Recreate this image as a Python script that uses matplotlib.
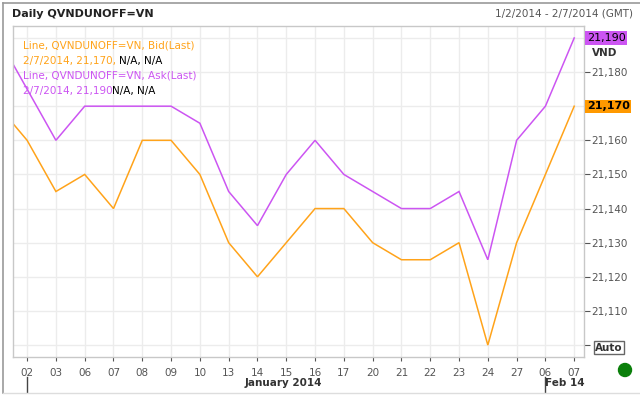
import numpy as np
import matplotlib
matplotlib.use('Agg')
import matplotlib.pyplot as plt
from matplotlib.lines import Line2D
from matplotlib.patches import Ellipse

# 数据: 2014-01-02 至 2014-02-07 每日 Bid / Ask (Last)
tick_labels = ['02', '03', '06', '07', '08', '09', '10', '13', '14', '15',
               '16', '17', '20', '21', '22', '23', '24', '27', '06', '07']
bid = [21160, 21145, 21150, 21140, 21160, 21160, 21150, 21130, 21120, 21130,
       21140, 21140, 21130, 21125, 21125, 21130, 21100, 21130, 21150, 21170]
ask = [21175, 21160, 21170, 21170, 21170, 21170, 21165, 21145, 21135, 21150,
       21160, 21150, 21145, 21140, 21140, 21145, 21125, 21160, 21170, 21190]
# 前一交易日 (图左侧被截断的部分)
prev_bid = 21170
prev_ask = 21190
y_ticks = [21110, 21120, 21130, 21140, 21150, 21160, 21180]

ORANGE = '#ffa31a'
PURPLE = '#cc55f2'
GRID = '#ececec'
GRAY = '#555555'

W, H = 640, 398


def fx(x):
    return x / W


def fy(y):
    return 1 - y / H


fig = plt.figure(figsize=(6.4, 3.98), dpi=100)
ax = fig.add_axes([fx(13), fy(357), fx(584) - fx(13), fy(26) - fy(357)])

x = np.arange(len(tick_labels))
xb = np.concatenate([[-1], x])
ax.plot(xb, [prev_bid] + bid, color=ORANGE, lw=1.1, solid_joinstyle='miter')
ax.plot(xb, [prev_ask] + ask, color=PURPLE, lw=1.1, solid_joinstyle='miter')

ax.set_xlim(-0.49, 19.34)
ax.set_ylim(21096.5, 21193.5)

ax.set_xticks(x)
ax.set_xticklabels(tick_labels, fontsize=7.5, color=GRAY)
ax.set_yticks(y_ticks + [21100, 21170, 21190])
ax.set_yticklabels([f'{v:,}' for v in y_ticks] + ['', '', ''], fontsize=7.5, color=GRAY)
ax.yaxis.tick_right()
ax.tick_params(axis='y', length=4, width=0.8, color=GRAY, pad=1)
ax.tick_params(axis='x', length=3, width=0.8, color=GRAY, pad=5)
ax.grid(True, color=GRID, lw=1.0)
ax.set_axisbelow(True)
for s in ax.spines.values():
    s.set_color('#c8c8c8')
    s.set_linewidth(1.0)

# 图例文字
fs = 7.5
t1 = ax.text(0.017, 0.955, 'Line, QVNDUNOFF=VN, Bid(Last)', transform=ax.transAxes,
             color=ORANGE, fontsize=fs, va='top')
t2 = ax.text(0.017, 0.91, '2/7/2014, 21,170, ', transform=ax.transAxes,
             color=ORANGE, fontsize=fs, va='top')
ax.annotate('N/A, N/A', xy=(1, 0), xycoords=t2, va='bottom', fontsize=fs, color='black')
t3 = ax.text(0.017, 0.865, 'Line, QVNDUNOFF=VN, Ask(Last)', transform=ax.transAxes,
             color=PURPLE, fontsize=fs, va='top')
t4 = ax.text(0.017, 0.82, '2/7/2014, 21,190', transform=ax.transAxes,
             color=PURPLE, fontsize=fs, va='top')
ax.annotate('N/A, N/A', xy=(1, 0), xycoords=t4, va='bottom', fontsize=fs, color='black')

# 右侧最新值标签
ax.annotate(f'{ask[-1]:,}', xy=(1, ask[-1]), xycoords=('axes fraction', 'data'),
            xytext=(2, 0), textcoords='offset points', va='center', ha='left',
            fontsize=8, color='black',
            bbox=dict(boxstyle='square,pad=0.15', fc=PURPLE, ec='none'))
ax.annotate('VND', xy=(1, ask[-1]), xycoords=('axes fraction', 'data'),
            xytext=(6, -10.5), textcoords='offset points', va='center', ha='left',
            fontsize=7.5, color='#333333', fontweight='bold')
ax.annotate(f'{bid[-1]:,}', xy=(1, bid[-1]), xycoords=('axes fraction', 'data'),
            xytext=(2, 0), textcoords='offset points', va='center', ha='left',
            fontsize=8, color='black', fontweight='bold',
            bbox=dict(boxstyle='square,pad=0.15', fc='#ff9900', ec='none'))
ax.annotate('Auto', xy=(1, 21100), xycoords=('axes fraction', 'data'),
            xytext=(8, -2), textcoords='offset points', va='center', ha='left',
            fontsize=7.5, color='#333333', fontweight='bold',
            bbox=dict(boxstyle='square,pad=0.15', fc='white', ec='#666666', lw=1))

# 标题
fig.text(fx(12), fy(14), 'Daily QVNDUNOFF=VN', fontsize=8, color='#222222',
         fontweight='semibold', va='center')
fig.text(fx(633), fy(14), '1/2/2014 - 2/7/2014 (GMT)', fontsize=7.5, color=GRAY,
         va='center', ha='right')

# 月份标签
fig.text(fx(283), fy(383), 'January 2014', fontsize=7.5, color='#333333',
         fontweight='bold', ha='center', va='center')
fig.text(fx(545), fy(383), 'Feb 14', fontsize=7.5, color='#333333',
         fontweight='bold', ha='left', va='center')
for xm in (0, 18):
    xp = ax.transData.transform((xm, 0))[0] / (fig.dpi * fig.get_figwidth())
    fig.add_artist(Line2D([xp, xp], [fy(392), fy(377)], color='#444444', lw=1.0))

# 外框
fig.add_artist(Line2D([fx(2.5), fx(2.5)], [fy(2.5), fy(393)], color='#999999', lw=1.2))
fig.add_artist(Line2D([fx(2.5), fx(640)], [fy(2.5), fy(2.5)], color='#999999', lw=1.2))
fig.add_artist(Line2D([fx(2.5), fx(640)], [fy(393), fy(393)], color='#dddddd', lw=1.0))

# 状态指示灯
fig.add_artist(Ellipse((fx(625), fy(370)), width=13 / W, height=13 / H,
                       color='#0a7f0a', transform=fig.transFigure))

fig.savefig('out.png', dpi=100)
